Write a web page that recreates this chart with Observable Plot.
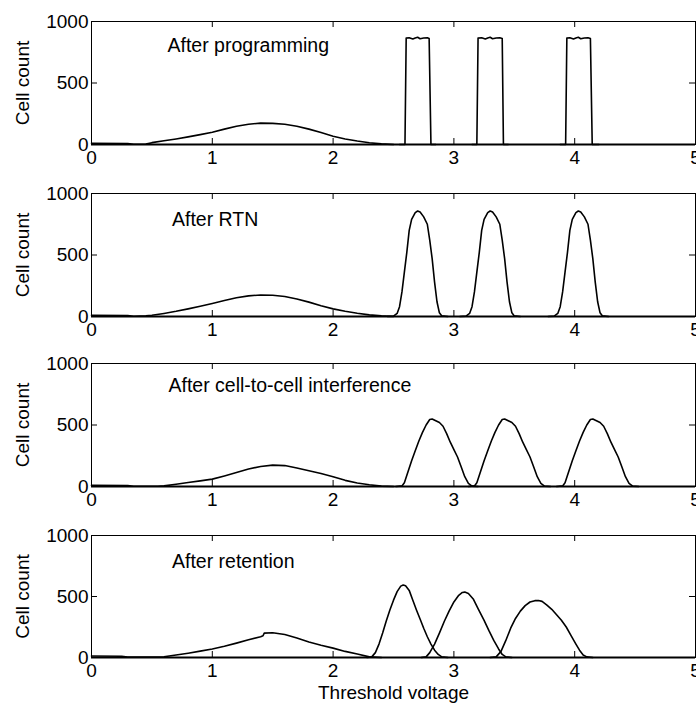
<!DOCTYPE html>
<html><head><meta charset="utf-8">
<script src="https://cdn.jsdelivr.net/npm/d3@7"></script>
<script src="https://cdn.jsdelivr.net/npm/@observablehq/plot@0.6"></script>
<style>
body{margin:0;background:#fff;width:696px;overflow:hidden}
svg{display:block}
</style>
</head><body><div id="chart"></div>
<script>
// Axis ticks
const xTicks = [0, 1, 2, 3, 4, 5];
const yTicks = [0, 500, 1000];
const innerXTicks = [1, 2, 3, 4];
const innerYTicks = [500];
const panelTitles = ["After programming", "After RTN", "After cell-to-cell interference", "After retention"];
const xLabel = "Threshold voltage";
const yLabel = "Cell count";

// Panel 1: After programming  ([voltage, count])
const progErased = [[0,10],[0.3,8],[0.35,2],[0.45,3],[0.5,15],[0.6,30],[0.7,45],[0.8,62],[0.9,80],[1.0,100],[1.1,125],[1.2,148],[1.3,165],[1.4,174],[1.5,172],[1.6,165],[1.7,148],[1.8,125],[1.9,97],[2.0,67],[2.1,45],[2.2,28],[2.3,14],[2.4,5],[2.5,0]];
const progS1 = [[2.55,0],[2.595,0],[2.605,865],[2.63,868],[2.66,858],[2.68,866],[2.70,872],[2.72,860],[2.75,866],[2.78,868],[2.795,862],[2.81,0],[2.85,0]];
const progS2 = [[3.15,0],[3.19,0],[3.20,865],[3.23,868],[3.26,858],[3.28,866],[3.30,872],[3.32,860],[3.35,866],[3.38,868],[3.40,862],[3.41,0],[3.45,0]];
const progS3 = [[3.88,0],[3.925,0],[3.935,865],[3.96,868],[3.99,858],[4.01,866],[4.03,872],[4.05,860],[4.08,866],[4.11,868],[4.13,862],[4.145,0],[4.2,0]];

// Panel 2: After RTN
const rtnErased = [[0,10],[0.3,8],[0.35,2],[0.45,5],[0.5,10],[0.6,25],[0.7,42],[0.8,62],[0.9,84],[1.0,106],[1.1,130],[1.2,152],[1.3,168],[1.4,175],[1.5,173],[1.6,162],[1.7,142],[1.8,117],[1.9,88],[2.0,62],[2.1,42],[2.2,26],[2.3,13],[2.4,5],[2.5,0]];
const rtnS1 = [[2.45,0],[2.50,3],[2.53,25],[2.55,80],[2.57,200],[2.59,360],[2.61,520],[2.63,700],[2.65,790],[2.68,845],[2.70,858],[2.72,850],[2.75,810],[2.78,750],[2.80,620],[2.82,470],[2.84,280],[2.86,120],[2.88,30],[2.90,5],[2.95,0]];
const rtnS2 = [[3.05,0],[3.10,3],[3.13,25],[3.15,80],[3.17,200],[3.19,360],[3.21,520],[3.23,700],[3.25,790],[3.28,845],[3.30,858],[3.32,850],[3.35,810],[3.38,750],[3.40,620],[3.42,470],[3.44,280],[3.46,120],[3.48,30],[3.50,5],[3.55,0]];
const rtnS3 = [[3.78,0],[3.83,3],[3.86,25],[3.88,80],[3.90,200],[3.92,360],[3.94,520],[3.96,700],[3.98,790],[4.01,845],[4.03,858],[4.05,850],[4.08,810],[4.11,750],[4.13,620],[4.15,470],[4.17,280],[4.19,120],[4.21,30],[4.23,5],[4.28,0]];

// Panel 3: After cell-to-cell interference
const c2cErased = [[0,9],[0.3,8],[0.35,2],[0.55,2],[0.6,5],[0.7,18],[0.8,33],[0.9,46],[1.0,60],[1.1,86],[1.2,114],[1.3,142],[1.4,163],[1.5,174],[1.6,170],[1.7,150],[1.8,128],[1.9,106],[2.0,80],[2.1,50],[2.2,28],[2.3,14],[2.4,3],[2.5,0]];
const c2cS1 = [[2.52,0],[2.57,5],[2.59,30],[2.62,120],[2.65,210],[2.68,290],[2.71,370],[2.74,440],[2.77,500],[2.80,545],[2.82,549],[2.85,535],[2.88,520],[2.91,490],[2.94,430],[2.97,360],[3.00,300],[3.03,240],[3.06,160],[3.09,80],[3.12,25],[3.15,3],[3.20,0]];
const c2cS2 = [[3.12,0],[3.17,5],[3.19,30],[3.22,120],[3.25,210],[3.28,290],[3.31,370],[3.34,440],[3.37,500],[3.40,545],[3.42,549],[3.45,535],[3.48,520],[3.51,490],[3.54,430],[3.57,360],[3.60,300],[3.63,240],[3.66,160],[3.69,80],[3.72,25],[3.75,3],[3.80,0]];
const c2cS3 = [[3.85,0],[3.90,5],[3.92,30],[3.95,120],[3.98,210],[4.01,290],[4.04,370],[4.07,440],[4.10,500],[4.13,545],[4.15,549],[4.18,535],[4.21,520],[4.24,490],[4.27,430],[4.30,360],[4.33,300],[4.36,240],[4.39,160],[4.42,80],[4.45,25],[4.48,3],[4.53,0]];

// Panel 4: After retention
const retErased = [[0,12],[0.25,10],[0.3,3],[0.55,3],[0.6,6],[0.7,20],[0.8,35],[0.9,52],[1.0,69],[1.1,92],[1.2,118],[1.3,145],[1.4,170],[1.42,178],[1.43,200],[1.5,203],[1.6,188],[1.7,160],[1.8,127],[1.9,100],[2.0,77],[2.1,50],[2.2,28],[2.3,5],[2.4,0]];
const retS1 = [[2.28,0],[2.32,5],[2.35,40],[2.38,110],[2.41,200],[2.44,300],[2.47,390],[2.50,470],[2.53,540],[2.56,585],[2.58,594],[2.60,588],[2.63,550],[2.66,470],[2.69,390],[2.72,315],[2.75,240],[2.78,170],[2.81,110],[2.84,60],[2.87,25],[2.90,5],[2.95,0]];
const retS2 = [[2.73,0],[2.77,5],[2.80,40],[2.84,110],[2.88,200],[2.92,295],[2.96,380],[3.00,455],[3.04,510],[3.07,533],[3.09,536],[3.12,525],[3.16,480],[3.20,400],[3.25,305],[3.29,220],[3.33,140],[3.37,70],[3.40,25],[3.43,5],[3.48,0]];
const retS3 = [[3.30,0],[3.35,5],[3.39,50],[3.43,140],[3.47,240],[3.51,320],[3.55,380],[3.59,425],[3.63,455],[3.67,466],[3.70,467],[3.73,460],[3.77,430],[3.81,395],[3.85,350],[3.89,305],[3.93,250],[3.97,180],[4.01,110],[4.04,60],[4.07,20],[4.10,5],[4.15,0]];

const panelCurves = [
  [progErased, progS1, progS2, progS3],
  [rtnErased, rtnS1, rtnS2, rtnS3],
  [c2cErased, c2cS1, c2cS2, c2cS3],
  [retErased, retS1, retS2, retS3]
];

// Layout (pixels)
const layouts = [
  {marginTop: 21, inner: 123, marginBottom: 28, titleDx: 76, titleDy: 16.5},
  {marginTop: 21, inner: 123, marginBottom: 26, titleDx: 80.5, titleDy: 18.5},
  {marginTop: 21, inner: 123, marginBottom: 28, titleDx: 77, titleDy: 14.5},
  {marginTop: 21, inner: 122, marginBottom: 50, titleDx: 80.5, titleDy: 18.5}
];

const W = 696, ML = 91, MR = 1;
const innerW = W - ML - MR;
const font = "'Liberation Sans', Arial, Helvetica, sans-serif";
const fmt = d3.format("d");

const root = document.getElementById("chart");
panelCurves.forEach((curves, p) => {
  const L = layouts[p];
  const rows = curves.flatMap((pts, i) => pts.map(([v, c]) => ({state: i, v, c})));
  const marks = [
    Plot.ruleY([0], {stroke: "black", strokeWidth: 2}),
    Plot.line(rows, {x: "v", y: "c", z: "state", stroke: "black", strokeWidth: 1.6}),
    Plot.tickX(innerXTicks, {x: d => d, stroke: "black", insetTop: L.inner - 6}),
    Plot.tickX(innerXTicks, {x: d => d, stroke: "black", insetBottom: L.inner - 6}),
    Plot.tickY(innerYTicks, {y: d => d, stroke: "black", insetRight: innerW - 6}),
    Plot.tickY(innerYTicks, {y: d => d, stroke: "black", insetLeft: innerW - 6}),
    Plot.frame({stroke: "black"}),
    Plot.axisX(xTicks, {tickSize: 0, tickPadding: 6, label: null, fontSize: 19, tickFormat: fmt}),
    Plot.axisY(yTicks, {tickSize: 0, tickPadding: 3, label: null, fontSize: 19, tickFormat: fmt}),
    Plot.text([panelTitles[p]], {text: d => d, frameAnchor: "top-left", dx: L.titleDx, dy: L.titleDy, textAnchor: "start", lineAnchor: "top", fontSize: 19.5}),
    Plot.text([yLabel], {text: d => d, frameAnchor: "left", rotate: -90, dx: -68.5, textAnchor: "middle", lineAnchor: "middle", fontSize: 19})
  ];
  if (p === panelCurves.length - 1) {
    marks.push(Plot.text([xLabel], {text: d => d, frameAnchor: "bottom", dy: 41, fontSize: 19}));
  }
  const chart = Plot.plot({
    width: W,
    height: L.marginTop + L.inner + L.marginBottom,
    marginLeft: ML, marginRight: MR, marginTop: L.marginTop, marginBottom: L.marginBottom,
    style: {fontFamily: font, fontSize: "19px", background: "white", color: "black"},
    x: {domain: [0, 5]},
    y: {domain: [0, 1000]},
    marks
  });
  root.appendChild(chart);
});
</script>
</body></html>
